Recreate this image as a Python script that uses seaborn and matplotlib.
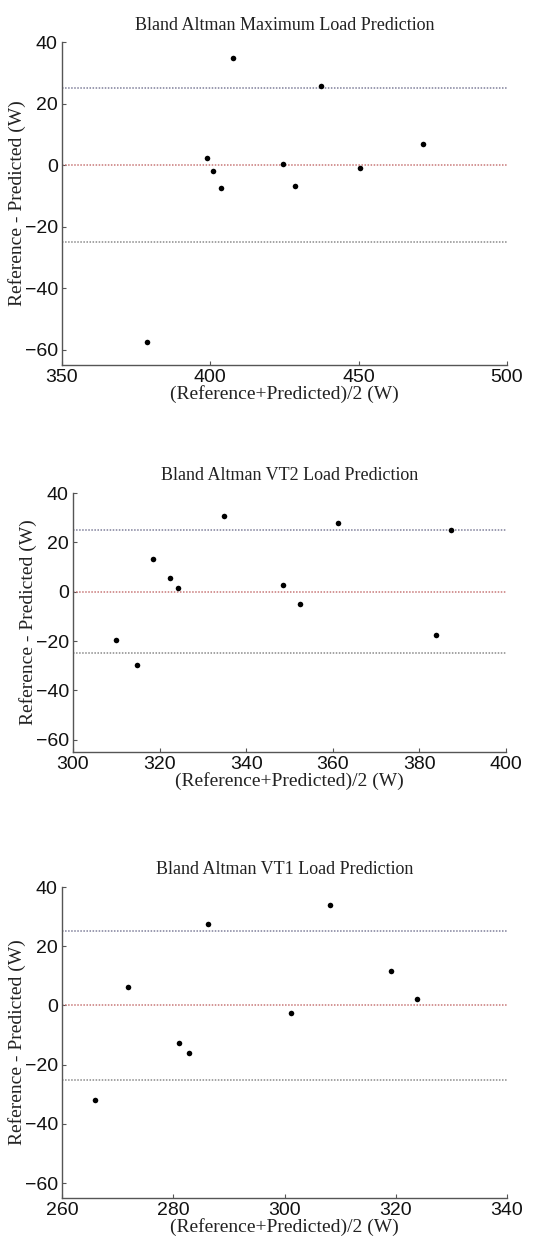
import matplotlib
matplotlib.use("Agg")
import matplotlib.pyplot as plt
import seaborn as sns
import pandas as pd

# ---- data ----
max_mean = [407.6, 437.2, 471.6, 398.9, 400.9, 403.6, 424.6, 428.4, 450.5, 378.6]
max_diff = [34.9, 25.6, 6.8, 2.3, -2.0, -7.3, 0.5, -6.9, -1.0, -57.4]

vt2_mean = [334.8, 361.1, 387.4, 318.4, 322.3, 324.3, 348.6, 352.5, 309.9, 314.7, 383.8]
vt2_diff = [30.5, 27.8, 25.1, 13.4, 5.5, 1.4, 2.8, -5.1, -19.7, -29.9, -17.6]

vt1_mean = [308.1, 286.2, 319.2, 271.8, 323.9, 301.2, 281.1, 282.9, 265.9]
vt1_diff = [33.9, 27.6, 11.6, 6.4, 2.1, -2.4, -12.5, -16.1, -32.0]

titles = ["Bland Altman Maximum Load Prediction",
          "Bland Altman VT2 Load Prediction",
          "Bland Altman VT1 Load Prediction"]
xlims = [(350, 500), (300, 400), (260, 340)]
xticks = [[350, 400, 450, 500], [300, 320, 340, 360, 380, 400], [260, 280, 300, 320, 340]]
yticks = [-60, -40, -20, 0, 20, 40]
bias = [0, 0, 0]
upper = [25, 25, 25]
lower = [-25, -25, -25]

sns.set_theme(style="white")
W, H = 552, 1241
fig = plt.figure(figsize=(W / 100, H / 100), dpi=100)
fig.patch.set_facecolor("white")

# pixel boxes (left, right, top, bottom)
boxes = [(62, 507, 42, 365), (73, 506, 493, 752), (62, 507, 887, 1198)]
serif = ["Liberation Serif", "DejaVu Serif"]
sans = ["Liberation Sans", "DejaVu Sans"]

datasets = [(max_mean, max_diff), (vt2_mean, vt2_diff), (vt1_mean, vt1_diff)]
for i, ((xm, yd), (l, r, t, b)) in enumerate(zip(datasets, boxes)):
    ax = fig.add_axes([l / W, 1 - b / H, (r - l) / W, (b - t) / H])
    df = pd.DataFrame({"mean": xm, "diff": yd})
    ax.axhline(upper[i], color="#7f7f9a", lw=1.1, ls=(0, (1, 1)), zorder=1)
    ax.axhline(bias[i], color="#c87878", lw=1.1, ls=(0, (1, 1)), zorder=1)
    ax.axhline(lower[i], color="#8a8a8a", lw=1.1, ls=(0, (1, 1)), zorder=1)
    sns.scatterplot(data=df, x="mean", y="diff", ax=ax, color="black",
                    s=16, edgecolor="black", linewidth=0, zorder=3)
    ax.set_xlim(*xlims[i])
    ax.set_ylim(-65, 40)
    ax.set_xticks(xticks[i])
    ax.set_yticks(yticks)
    for s in ["top", "right"]:
        ax.spines[s].set_visible(False)
    for s in ["left", "bottom"]:
        ax.spines[s].set_color("#555555")
        ax.spines[s].set_linewidth(1.0)
    ax.tick_params(direction="in", length=3, width=0.8, color="#555555",
                   labelsize=14, pad=3, bottom=True, left=True)
    for lab in ax.get_xticklabels() + ax.get_yticklabels():
        lab.set_family(sans)
        lab.set_color("#111111")
    ax.set_title(titles[i], family=serif, fontsize=13, color="#222222", pad=9)
    ax.set_xlabel("(Reference+Predicted)/2 (W)", family=serif, fontsize=14,
                  color="#222222", labelpad=-1)
    ax.set_ylabel("Reference - Predicted (W)", family=serif, fontsize=14,
                  color="#222222", labelpad=-1)

fig.savefig("out.png", dpi=100, facecolor="white")
